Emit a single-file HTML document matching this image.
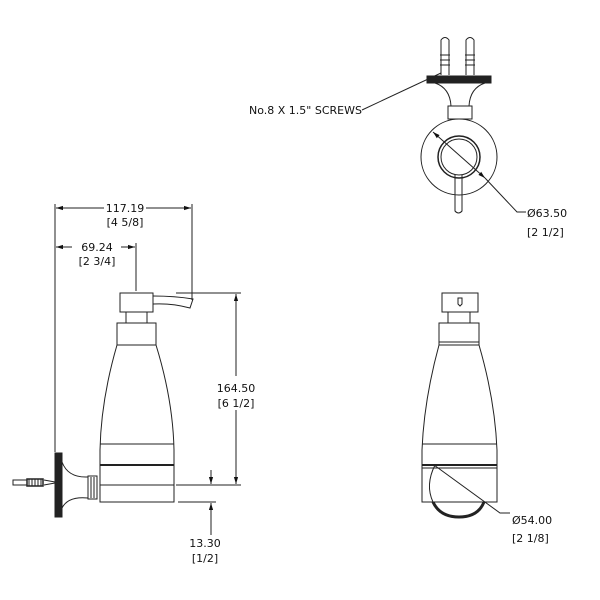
<!DOCTYPE html>
<html><head><style>body{margin:0;background:#fff}svg{display:block}text{font-family:"DejaVu Sans","Liberation Sans",sans-serif;font-size:11px;fill:#111}</style></head>
<body>
<svg width="600" height="600" viewBox="0 0 600 600" xmlns="http://www.w3.org/2000/svg">
<defs><marker id="a" viewBox="0 0 10 10" refX="10" refY="5" markerWidth="7" markerHeight="7" orient="auto-start-reverse"><path d="M0,2 L10,5 L0,8 z" fill="#111"/></marker></defs>
<g stroke="#222" stroke-width="1" fill="none">
<!-- left view dims -->
<line x1="55" y1="204" x2="55" y2="452"/>
<line x1="192" y1="204" x2="192" y2="300"/>
<line x1="136" y1="243" x2="136" y2="291"/>
<line x1="56" y1="208" x2="104" y2="208" marker-start="url(#a)"/>
<line x1="146" y1="208" x2="191" y2="208" marker-end="url(#a)"/>
<line x1="56" y1="247" x2="72" y2="247" marker-start="url(#a)"/>
<line x1="121" y1="247" x2="135" y2="247" marker-end="url(#a)"/>
<line x1="176" y1="293" x2="241" y2="293"/>
<line x1="176" y1="485" x2="241" y2="485"/>
<line x1="178" y1="502" x2="216" y2="502"/>
<line x1="236" y1="294" x2="236" y2="376" marker-start="url(#a)"/>
<line x1="236" y1="410" x2="236" y2="484" marker-end="url(#a)"/>
<line x1="211" y1="470" x2="211" y2="484" marker-end="url(#a)"/>
<line x1="211" y1="535" x2="211" y2="503" marker-end="url(#a)"/>
<!-- left view object -->
<rect x="120" y="293" width="33" height="19"/>
<path d="M153 296 Q175 296 193 299 L190 308 Q172 303 153 304"/>
<rect x="126" y="312" width="21" height="11"/>
<rect x="117" y="323" width="39" height="22"/>
<path d="M117 345 Q101 400 100 450 L100 502 L174 502 L174 450 Q173 400 156 345 Z"/>
<line x1="100" y1="444" x2="174" y2="444"/>
<line x1="100" y1="465" x2="174" y2="465" stroke-width="2"/>
<line x1="100" y1="485" x2="174" y2="485"/>
<rect x="55" y="453" width="7" height="64" fill="#222"/>
<path d="M62 462 Q68 478 88 477 L88 498 Q68 496 62 508"/>
<rect x="88" y="476" width="9" height="23"/>
<line x1="91" y1="477" x2="91" y2="498"/><line x1="94" y1="477" x2="94" y2="498"/>
<rect x="13" y="480" width="14" height="5"/>
<rect x="27" y="479" width="16" height="7" stroke-width="1.5"/>
<path d="M29 479v7M32 479v7M35 479v7M38 479v7M41 479v7M44 480l11 2M44 485l11 -2"/>
<!-- top view -->
<path d="M441 75 V40 Q445 35 449 40 V75 M466 75 V40 Q470 35 474 40 V75"/>
<path d="M440 55h10M440 60h10M440 65h10M465 55h10M465 60h10M465 65h10"/>
<rect x="427" y="76" width="64" height="7" fill="#222"/>
<path d="M435 83 Q450 88 451 106 L469 106 Q470 88 485 83"/>
<rect x="448" y="106" width="24" height="13"/>
<circle cx="459" cy="157" r="38"/>
<circle cx="459" cy="157" r="21" stroke-width="1.5"/>
<circle cx="459" cy="157" r="18"/>
<path d="M455 175 V211 Q458.5 215 462 211 V175"/>
<line x1="433" y1="132" x2="485" y2="178" marker-start="url(#a)" marker-end="url(#a)"/>
<polyline points="485,178 517,212 526,212"/>
<polyline points="362,110 441,73"/>
<!-- front view -->
<rect x="442" y="293" width="36" height="19"/>
<path d="M458 298 h4 v6 l-2 2 l-2 -2 z"/>
<rect x="448" y="312" width="22" height="11"/>
<rect x="439" y="323" width="40" height="22"/>
<line x1="439" y1="342" x2="479" y2="342"/>
<path d="M439 345 Q424 400 422 450 L422 502 L497 502 L497 450 Q495 400 479 345 Z"/>
<line x1="422" y1="444" x2="497" y2="444"/>
<line x1="422" y1="465" x2="497" y2="465" stroke-width="2"/>
<line x1="422" y1="468" x2="497" y2="468"/>
<path d="M433 502 Q440 517 459 517 Q478 517 484 502" stroke-width="3"/>
<path d="M435 465 Q425 485 433 502"/>
<polyline points="434,465 500,513 510,513"/>
</g>
<text x="125" y="212" text-anchor="middle">117.19</text>
<text x="125" y="226" text-anchor="middle">[4 5/8]</text>
<text x="97" y="251" text-anchor="middle">69.24</text>
<text x="97" y="265" text-anchor="middle">[2 3/4]</text>
<text x="236" y="392" text-anchor="middle">164.50</text>
<text x="236" y="407" text-anchor="middle">[6 1/2]</text>
<text x="205" y="547" text-anchor="middle">13.30</text>
<text x="205" y="562" text-anchor="middle">[1/2]</text>
<text x="249" y="114">No.8 X 1.5" SCREWS</text>
<text x="527" y="217">Ø63.50</text>
<text x="527" y="236">[2 1/2]</text>
<text x="512" y="524">Ø54.00</text>
<text x="512" y="542">[2 1/8]</text>
</svg>
</body></html>
